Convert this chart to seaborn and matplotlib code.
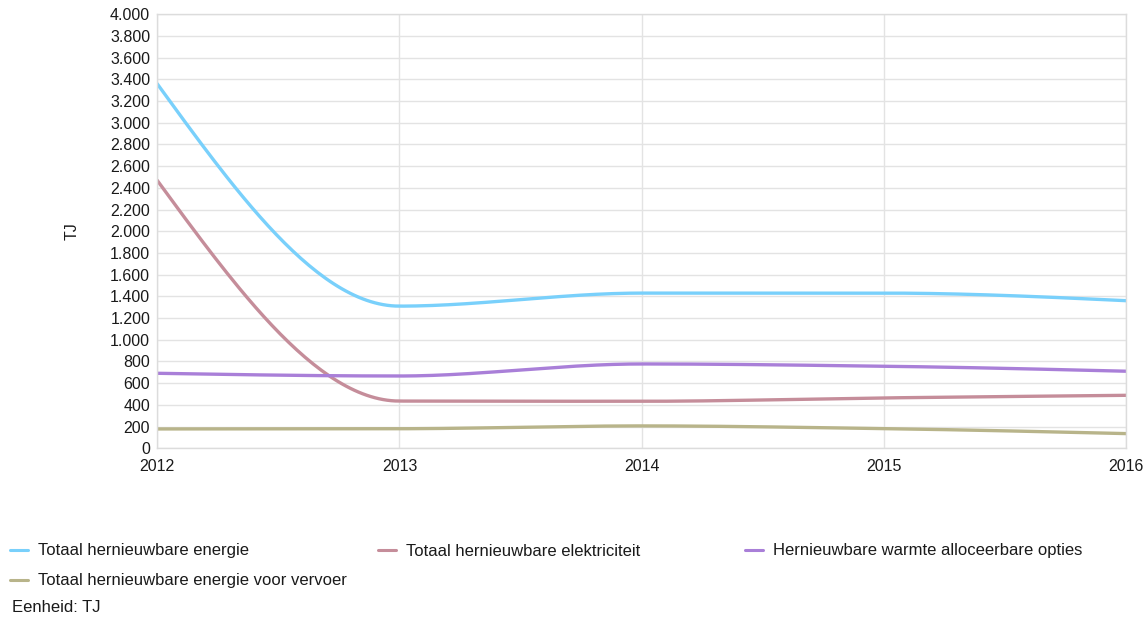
import numpy as np
import pandas as pd
import matplotlib
matplotlib.use("Agg")
import matplotlib.pyplot as plt
from matplotlib.ticker import FuncFormatter
import seaborn as sns

# Values (TJ)
years = [2012, 2013, 2014, 2015, 2016]
totaal_energie = [3360, 1310, 1430, 1430, 1360]
totaal_elektriciteit = [2470, 435, 433, 464, 488]
warmte_opties = [691, 666, 777, 756, 710]
energie_vervoer = [178, 180, 206, 181, 135]

series_names = ["Totaal hernieuwbare energie", "Totaal hernieuwbare elektriciteit",
                "Hernieuwbare warmte alloceerbare opties", "Totaal hernieuwbare energie voor vervoer"]
series_values = [totaal_energie, totaal_elektriciteit, warmte_opties, energie_vervoer]
colors = ["#79d0fb", "#c58d9a", "#a97fd8", "#b8b48a"]


# monotone cubic (Fritsch-Carlson) so the lines look smoothed like the original
def smooth(x, y, n=60):
    x = np.asarray(x, float)
    y = np.asarray(y, float)
    h = np.diff(x)
    d = np.diff(y) / h
    m = np.zeros_like(y)
    for i in range(1, len(y) - 1):
        if d[i - 1] * d[i] > 0:
            m[i] = 2 / (1 / d[i - 1] + 1 / d[i])
    # end slopes: three-point style, clamped to keep it monotone
    m[0] = 1.5 * d[0] - 0.5 * m[1]
    m[-1] = 1.5 * d[-1] - 0.5 * m[-2]
    if m[0] * d[0] <= 0:
        m[0] = 0
    if m[-1] * d[-1] <= 0:
        m[-1] = 0
    xs, ys = [], []
    for i in range(len(h)):
        t = np.linspace(0, 1, n)
        h00 = 2 * t**3 - 3 * t**2 + 1
        h10 = t**3 - 2 * t**2 + t
        h01 = -2 * t**3 + 3 * t**2
        h11 = t**3 - t**2
        xs.append(x[i] + t * h[i])
        ys.append(h00 * y[i] + h10 * h[i] * m[i] + h01 * y[i + 1] + h11 * h[i] * m[i + 1])
    return np.concatenate(xs), np.concatenate(ys)


frames = []
for name, vals in zip(series_names, series_values):
    sx, sy = smooth(years, vals)
    frames.append(pd.DataFrame({"Jaar": sx, "TJ": sy, "Reeks": name}))
df = pd.concat(frames, ignore_index=True)

sns.set_theme(style="white")
plt.rcParams["font.family"] = ["Liberation Sans", "DejaVu Sans"]

fig = plt.figure(figsize=(11.47, 6.2), dpi=100)
ax = fig.add_axes([0.137, 0.277, 0.845, 0.700])

sns.lineplot(data=df, x="Jaar", y="TJ", hue="Reeks", palette=colors, linewidth=2.4,
             sort=False, estimator=None, ax=ax, legend=False)

ax.set_xlim(2012, 2016)
ax.set_ylim(0, 4000)
ax.set_xticks(years)
ax.set_yticks(np.arange(0, 4001, 200))
ax.yaxis.set_major_formatter(FuncFormatter(lambda v, p: f"{int(v):,}".replace(",", ".")))
ax.grid(True, color="#e3e3e3", linewidth=1)
for s in ax.spines.values():
    s.set_color("#dcdcdc")
    s.set_linewidth(1)
ax.tick_params(axis="both", labelsize=11.5, colors="#1a1a1a", length=0, pad=5)
ax.tick_params(axis="x", pad=8)
ax.set_xlabel("")
ax.set_ylabel("TJ", fontsize=11.5, color="#1a1a1a", labelpad=22)

# legend entries laid out row by row, like the original
legend_pos = [(10, 551), (378, 551), (745, 551), (10, 581)]
for (lx, ly), name, c in zip(legend_pos, series_names, colors):
    h = plt.Line2D([], [], color=c, linewidth=2.2)
    fig.legend([h], [name], loc="center left", bbox_to_anchor=(lx / 1147, 1 - ly / 620),
               frameon=False, fontsize=12, handlelength=1.1, handletextpad=0.6,
               borderpad=0, borderaxespad=0, labelcolor="#1a1a1a")
fig.text(12 / 1147, 1 - 608 / 620, "Eenheid: TJ", fontsize=12, color="#1a1a1a", va="center")

fig.savefig("out.png", dpi=100)
